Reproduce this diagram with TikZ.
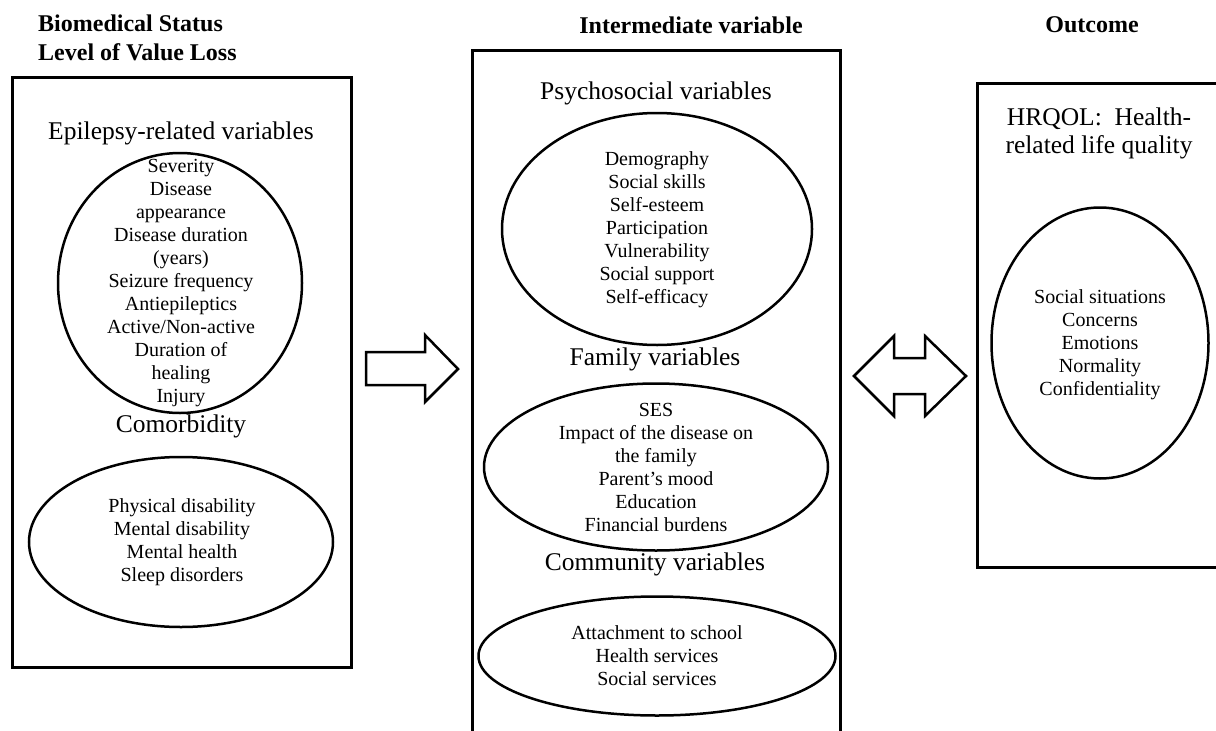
\documentclass[tikz,border=0pt]{standalone}
\usepackage{fontspec}
\setmainfont{Liberation Serif}
\usetikzlibrary{shapes.geometric}
\begin{document}
\begin{tikzpicture}[x=1pt,y=-1pt,
  box/.style={line width=3pt},
  ell/.style={draw, ellipse, line width=2.5pt, inner sep=0pt},
  inner/.style={inner sep=0pt, align=center, font={\fontsize{20}{23}\selectfont}},
  head/.style={inner sep=0pt, align=center, font={\fontsize{25.5}{28}\selectfont}, text height=0.7em, text depth=0.22em},
  ttl/.style={inner sep=0pt, font={\bfseries\fontsize{24}{29}\selectfont}, align=left},
  blockarrow/.style={draw, line width=2.5pt, line join=miter, fill=white}]

\useasboundingbox (0,0) rectangle (1216,731);

% titles
\node[ttl, anchor=west] (bio) at (38,37.5) {Biomedical Status\\Level of Value Loss};
\node[ttl, anchor=center] (inter) at (691,25) {Intermediate variable};
\node[ttl, anchor=center] (outc) at (1092,25) {Outcome};

% boxes
\draw[box] (12,77) rectangle (351,667);
\draw[box] (472,745) -- (472,50) -- (840,50) -- (840,745);
\draw[box] (1225,83) -- (977,83) -- (977,567) -- (1225,567);

% left column
\node[head] (epi) at (181,137) {Epilepsy-related variables};
\node[ell, minimum width=244pt, minimum height=260pt] (epiell) at (180,283) {};
\node[inner] (epitxt) at (181,283)
  {Severity\\Disease\\appearance\\Disease duration\\(years)\\Seizure frequency\\Antiepileptics\\Active/Non-active\\Duration of\\healing\\Injury};
\node[head] (como) at (181,430) {Comorbidity};
\node[ell, minimum width=304pt, minimum height=170pt] (comoell) at (181,542) {};
\node[inner] (comotxt) at (182,542)
  {Physical disability\\Mental disability\\Mental health\\Sleep disorders};

% middle column
\node[head] (psy) at (656,97) {Psychosocial variables};
\node[ell, minimum width=310pt, minimum height=232pt] (psyell) at (657,229) {};
\node[inner] (psytxt) at (657,230)
  {Demography\\Social skills\\Self-esteem\\Participation\\Vulnerability\\Social support\\Self-efficacy};
\node[head] (fam) at (655,363) {Family variables};
\node[ell, minimum width=344pt, minimum height=167pt] (famell) at (656,467) {};
\node[inner] (famtxt) at (656,467)
  {SES\\Impact of the disease on\\the family\\Parent’s mood\\Education\\Financial burdens};
\node[head] (comm) at (655,568) {Community variables};
\node[ell, minimum width=357pt, minimum height=119pt] (commell) at (657,656) {};
\node[inner] (commtxt) at (657,656)
  {Attachment to school\\Health services\\Social services};

% right column
\node[head] (hrq) at (1099,151) {HRQOL:~~Health-\\related life quality};
\node[ell, minimum width=217pt, minimum height=271pt] (outell) at (1100,343) {};
\node[inner] (outtxt) at (1100,345)
  {Social situations\\Concerns\\Emotions\\Normality\\Confidentiality};

% block arrows
\draw[blockarrow] (366,352) -- (425,352) -- (425,335) -- (458,369) -- (425,402) -- (425,385) -- (366,385) -- cycle;
\draw[blockarrow] (854,376) -- (894,336) -- (894,358) -- (925,358) -- (925,336) -- (966,376) -- (925,416) -- (925,394) -- (894,394) -- (894,416) -- cycle;
\end{tikzpicture}
\end{document}
